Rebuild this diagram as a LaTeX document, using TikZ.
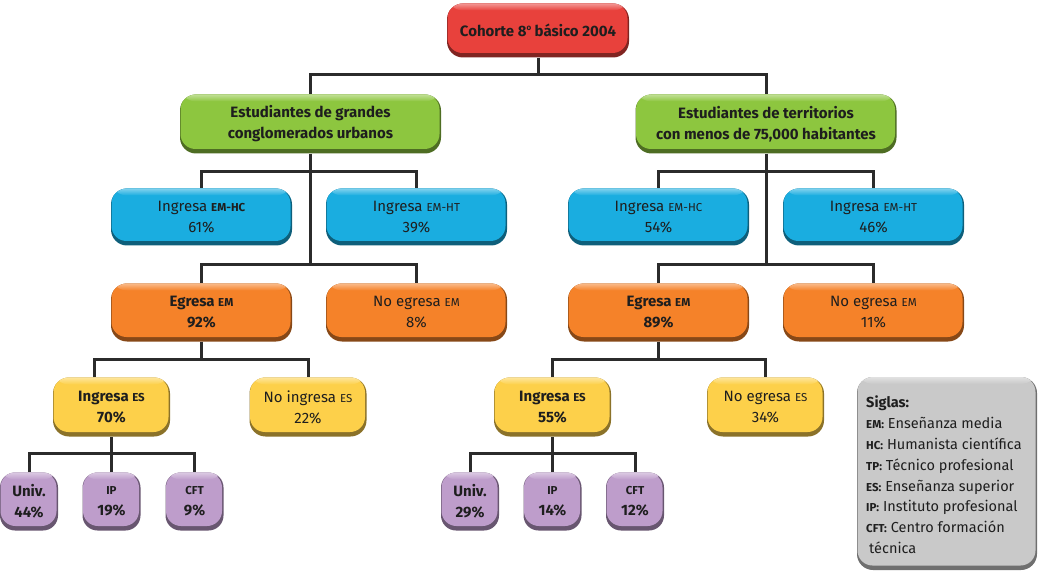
\documentclass[tikz,border=0pt]{standalone}
\usepackage{fontspec}
\setmainfont{Fira Sans}
\usetikzlibrary{backgrounds}
\definecolor{cred}{HTML}{E8413C}
\definecolor{cgreen}{HTML}{8DC63F}
\definecolor{cblue}{HTML}{1AADE0}
\definecolor{corange}{HTML}{F58229}
\definecolor{cyellow}{HTML}{FDD04A}
\definecolor{cpurple}{HTML}{BE9DCB}
\definecolor{cgray}{HTML}{C9C9C9}
\definecolor{cline}{HTML}{2B2B2B}
\definecolor{ctext}{HTML}{1E1E1E}
\newcommand\smc[1]{{\fontsize{11.5}{12}\selectfont #1}}
\newcommand\smcl[1]{{\fontsize{11.5}{12}\selectfont #1}}
\newcommand\ordo{\raisebox{0.75ex}{\fontsize{8}{8}\selectfont o}}
\tikzset{
  box/.style={rounded corners=16pt, align=center, inner sep=0pt, text=ctext,
    font=\fontsize{15}{21}\selectfont},
  shbox/.style={box, fill=#1!55!black,
    path picture={
      \fill[#1, rounded corners=15pt] ([xshift=0.5pt]path picture bounding box.north west)
        rectangle ([xshift=-1.5pt,yshift=4.5pt]path picture bounding box.south east);
      \shade[top color=#1!55!white, bottom color=#1]
        (path picture bounding box.north west) rectangle ([yshift=-7pt]path picture bounding box.north east);
    }},
  redbox/.style={shbox=cred, minimum width=182pt, minimum height=54pt},
  greenbox/.style={shbox=cgreen, minimum width=261pt, minimum height=59pt},
  bluebox/.style={shbox=cblue, minimum width=181pt, minimum height=57pt},
  orangebox/.style={shbox=corange, minimum width=181pt, minimum height=58pt},
  yellowbox/.style={shbox=cyellow, minimum width=117pt, minimum height=59pt},
  purplebox/.style={shbox=cpurple, minimum width=58pt, minimum height=58pt, rounded corners=15pt},
  graybox/.style={shbox=cgray, minimum width=180pt, minimum height=193pt, rounded corners=16pt},
  conn/.style={draw=cline, line width=3pt}
}
\begin{document}
\begin{tikzpicture}[x=1pt,y=-1pt]
\useasboundingbox (0,0) rectangle (1039,580);
% level 0
\node[redbox] (coh) at (538,30.5) {\bfseries Cohorte 8\ordo{} básico 2004};
% level 1
\node[greenbox] (gl) at (310.5,124) {\bfseries Estudiantes de grandes\\ \bfseries conglomerados urbanos};
\node[greenbox] (gr) at (766,124) {\bfseries Estudiantes de territorios\\ \bfseries con menos de 75,000 habitantes};
% level 2
\node[bluebox] (bl1) at (201.5,217) {Ingresa \textbf{\smc{EM-HC}}\\61\%};
\node[bluebox] (bl2) at (416.5,217) {Ingresa \smc{EM-HT}\\39\%};
\node[bluebox] (br1) at (658.5,217) {Ingresa \smc{EM-HC}\\54\%};
\node[bluebox] (br2) at (873.5,217) {Ingresa \smc{EM-HT}\\46\%};
% level 3
\node[orangebox] (ol1) at (201.5,312.5) {\bfseries Egresa \smc{EM}\\ \bfseries 92\%};
\node[orangebox] (ol2) at (416.5,312.5) {No egresa \smc{EM}\\8\%};
\node[orangebox] (or1) at (658.5,312.5) {\bfseries Egresa \smc{EM}\\ \bfseries 89\%};
\node[orangebox] (or2) at (873.5,312.5) {No egresa \smc{EM}\\11\%};
% level 4
\node[yellowbox] (yl1) at (111.5,407) {\bfseries Ingresa \smc{ES}\\ \bfseries 70\%};
\node[yellowbox] (yl2) at (308,407) {No ingresa \smc{ES}\\22\%};
\node[yellowbox] (yr1) at (552.5,407) {\bfseries Ingresa \smc{ES}\\ \bfseries 55\%};
\node[yellowbox] (yr2) at (765.5,407) {No egresa \smc{ES}\\34\%};
% level 5
\node[purplebox] (pl1) at (29,501.5) {\bfseries Univ.\\ \bfseries 44\%};
\node[purplebox] (pl2) at (111.5,501.5) {\bfseries\smc{IP}\\ \bfseries 19\%};
\node[purplebox] (pl3) at (194.5,501.5) {\bfseries\smc{CFT}\\ \bfseries 9\%};
\node[purplebox] (pr1) at (470,501.5) {\bfseries Univ.\\ \bfseries 29\%};
\node[purplebox] (pr2) at (552.5,501.5) {\bfseries\smc{IP}\\ \bfseries 14\%};
\node[purplebox] (pr3) at (635,501.5) {\bfseries\smc{CFT}\\ \bfseries 12\%};
% legend
\node[graybox] (sig) at (947,473.5) {};
\node[anchor=north west, align=left, inner sep=0pt, text=ctext,
  font=\fontsize{14.5}{20.8}\selectfont] (sigt) at (866,396)
  {\textbf{Siglas:}\\
   \textbf{\smcl{EM:}} Enseñanza media\\
   \textbf{\smcl{HC:}} Humanista científica\\
   \textbf{\smcl{TP:}} Técnico profesional\\
   \textbf{\smcl{ES:}} Enseñanza superior\\
   \textbf{\smcl{IP:}} Instituto profesional\\
   \textbf{\smcl{CFT:}} Centro formación\\
   \hspace*{3pt}técnica};
% level coordinates
\coordinate (h1) at (0,75);
\coordinate (h2) at (0,172);
\coordinate (h3) at (0,265);
\coordinate (h4) at (0,359);
\coordinate (h5) at (0,453.5);
\begin{scope}[on background layer]
  \draw[conn] (coh.south) -- (coh.south |- h1);
  \draw[conn] (gl.north) |- (h1 -| coh.south) -| (gr.north);
  % left branch
  \draw[conn] (gl.south) -- (gl.south |- h3);
  \draw[conn] (bl1.north) |- (h2 -| gl.south) -| (bl2.north);
  \draw[conn] (ol1.north) |- (h3 -| gl.south) -| (ol2.north);
  \draw[conn] (ol1.south) -- (ol1.south |- h4);
  \draw[conn] ([xshift=-17.5pt]yl1.north) |- (h4 -| ol1.south) -| (yl2.north);
  \draw[conn] (yl1.south) -- (yl1.south |- h5);
  \draw[conn] (pl1.north) |- (h5 -| yl1.south) -| (pl3.north);
  \draw[conn] (pl2.north) -- (pl2.north |- h5);
  % right branch
  \draw[conn] (gr.south) -- (gr.south |- h3);
  \draw[conn] (br1.north) |- (h2 -| gr.south) -| (br2.north);
  \draw[conn] (or1.north) |- (h3 -| gr.south) -| (or2.north);
  \draw[conn] (or1.south) -- (or1.south |- h4);
  \draw[conn] (yr1.north) |- (h4 -| or1.south) -| (yr2.north);
  \draw[conn] (yr1.south) -- (yr1.south |- h5);
  \draw[conn] (pr1.north) |- (h5 -| yr1.south) -| (pr3.north);
  \draw[conn] (pr2.north) -- (pr2.north |- h5);
\end{scope}
\end{tikzpicture}
\end{document}
